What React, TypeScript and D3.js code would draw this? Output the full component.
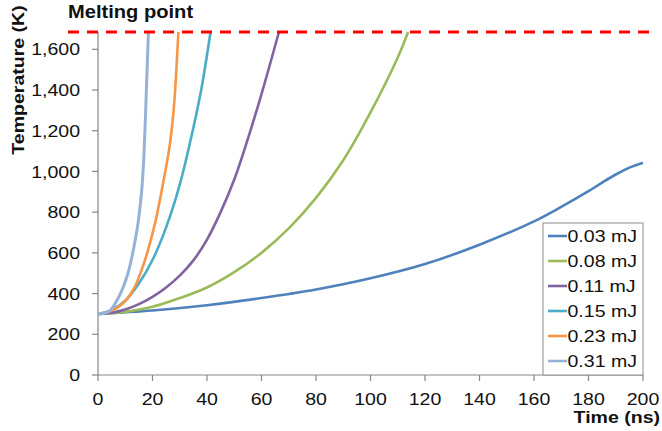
import React, { useEffect, useRef } from 'react';
import * as d3 from 'd3';

const seriesNames = ['0.03 mJ', '0.08 mJ', '0.11 mJ', '0.15 mJ', '0.23 mJ', '0.31 mJ'];
const seriesColors = ['#4F81BD', '#9BBB59', '#8064A2', '#4BACC6', '#F79646', '#95B3D7'];

// time (ns) / temperature (K)
const time003 = [0, 20, 40, 60, 80, 100, 120, 140, 160, 170, 180, 185, 190, 195, 200];
const temp003 = [300, 317, 343, 378, 420, 475, 545, 640, 755, 826, 903, 945, 985, 1019, 1043];

const time008 = [0, 10, 20, 30, 40, 50, 60, 70, 80, 90, 100, 110, 113.8];
const temp008 = [300, 310, 335, 378, 430, 505, 600, 720, 870, 1055, 1290, 1560, 1685];

const time011 = [0, 5, 10, 15, 20, 25, 30, 35, 40, 45, 50, 55, 60, 66.4];
const temp011 = [300, 306, 322, 348, 384, 430, 488, 563, 665, 800, 960, 1160, 1380, 1685];

const time015 = [0, 5, 10, 15, 20, 25, 30, 35, 38, 41.3];
const temp015 = [300, 320, 365, 450, 565, 725, 935, 1215, 1410, 1685];

const time023 = [0, 5, 9, 13, 17, 21, 24, 26, 27, 28, 29.5];
const temp023 = [300, 316, 350, 420, 555, 750, 950, 1100, 1200, 1340, 1685];

const time031 = [0, 4, 7.5, 11, 14.4, 15.2, 16, 16.7, 17.2, 17.6, 18.5];
const temp031 = [300, 312, 380, 500, 720, 800, 900, 1040, 1190, 1340, 1685];

const seriesTimes = [time003, time008, time011, time015, time023, time031];
const seriesTemps = [temp003, temp008, temp011, temp015, temp023, temp031];

const meltingPoint = 1685;
const xTicks = [0, 20, 40, 60, 80, 100, 120, 140, 160, 180, 200];
const yTicks = [0, 200, 400, 600, 800, 1000, 1200, 1400, 1600];

const FONT = '"Liberation Sans", Arial, sans-serif';
const STRETCH = 1.15; // text in the picture is a bit wider than Arial
const AXIS = '#868686';

const App = () => {
  const ref = useRef<SVGSVGElement>(null);

  useEffect(() => {
    const svg = d3.select(ref.current);
    svg.selectAll('*').remove();

    const x = d3.scaleLinear().domain([0, 200]).range([98, 643]);
    const y = d3.scaleLinear().domain([0, meltingPoint]).range([375, 32]);

    const label = (px: number, py: number, str: string, anchor: string, opts: any = {}) => {
      const g = svg
        .append('g')
        .attr('transform', `translate(${px},${py}) rotate(${opts.rotate || 0}) scale(${STRETCH},1)`);
      g.append('text')
        .attr('text-anchor', anchor)
        .attr('dy', opts.dy || 0)
        .style('font-family', FONT)
        .style('font-size', `${opts.size || 17}px`)
        .style('font-weight', opts.bold ? 'bold' : 'normal')
        .attr('fill', '#111')
        .text(str);
    };

    // axes
    svg.append('line').attr('x1', x(0)).attr('x2', x(0)).attr('y1', y(meltingPoint)).attr('y2', y(0))
      .attr('stroke', AXIS).attr('stroke-width', 1.2);
    svg.append('line').attr('x1', x(0)).attr('x2', x(200)).attr('y1', y(0)).attr('y2', y(0))
      .attr('stroke', AXIS).attr('stroke-width', 1.2);

    yTicks.forEach((v) => {
      svg.append('line').attr('x1', x(0) - 6).attr('x2', x(0)).attr('y1', y(v)).attr('y2', y(v))
        .attr('stroke', AXIS).attr('stroke-width', 1.2);
      label(80, y(v), d3.format(',')(v), 'end', { dy: '0.36em' });
    });
    xTicks.forEach((v) => {
      svg.append('line').attr('x1', x(v)).attr('x2', x(v)).attr('y1', y(0)).attr('y2', y(0) + 6)
        .attr('stroke', AXIS).attr('stroke-width', 1.2);
      label(x(v), 405, String(v), 'middle');
    });

    label(660, 423, 'Time (ns)', 'end', { bold: true });
    label(24, 80, 'Temperature (K)', 'middle', { bold: true, rotate: -90 });

    // legend box
    svg.append('rect').attr('x', 543).attr('y', 223).attr('width', 100).attr('height', 152)
      .attr('fill', 'white').attr('stroke', '#8c8c8c').attr('stroke-width', 1);

    const line = d3
      .line<[number, number]>()
      .x((d) => x(d[0]))
      .y((d) => y(d[1]))
      .curve(d3.curveCatmullRom.alpha(0.5));

    seriesNames.forEach((name, i) => {
      const pts = seriesTimes[i].map((t, j) => [t, seriesTemps[i][j]] as [number, number]);
      svg.append('path').attr('d', line(pts)).attr('fill', 'none')
        .attr('stroke', seriesColors[i]).attr('stroke-width', i === 5 ? 3 : 2.6);

      const ly = 236 + i * 25;
      svg.append('line').attr('x1', 548).attr('x2', 567).attr('y1', ly).attr('y2', ly)
        .attr('stroke', seriesColors[i]).attr('stroke-width', 2.6);
      label(567.5, ly, name, 'start', { dy: '0.36em' });
    });

    // melting point
    svg.append('line').attr('x1', 68).attr('x2', 651).attr('y1', y(meltingPoint)).attr('y2', y(meltingPoint))
      .attr('stroke', '#FF0000').attr('stroke-width', 3).attr('stroke-dasharray', '11,8');
    label(68, 18, 'Melting point', 'start', { bold: true, size: 17.5 });
  }, []);

  return (
    <svg
      ref={ref}
      width={662}
      height={431}
      style={{ position: 'absolute', left: 0, top: 0, background: 'white' }}
    />
  );
};

export default App;
